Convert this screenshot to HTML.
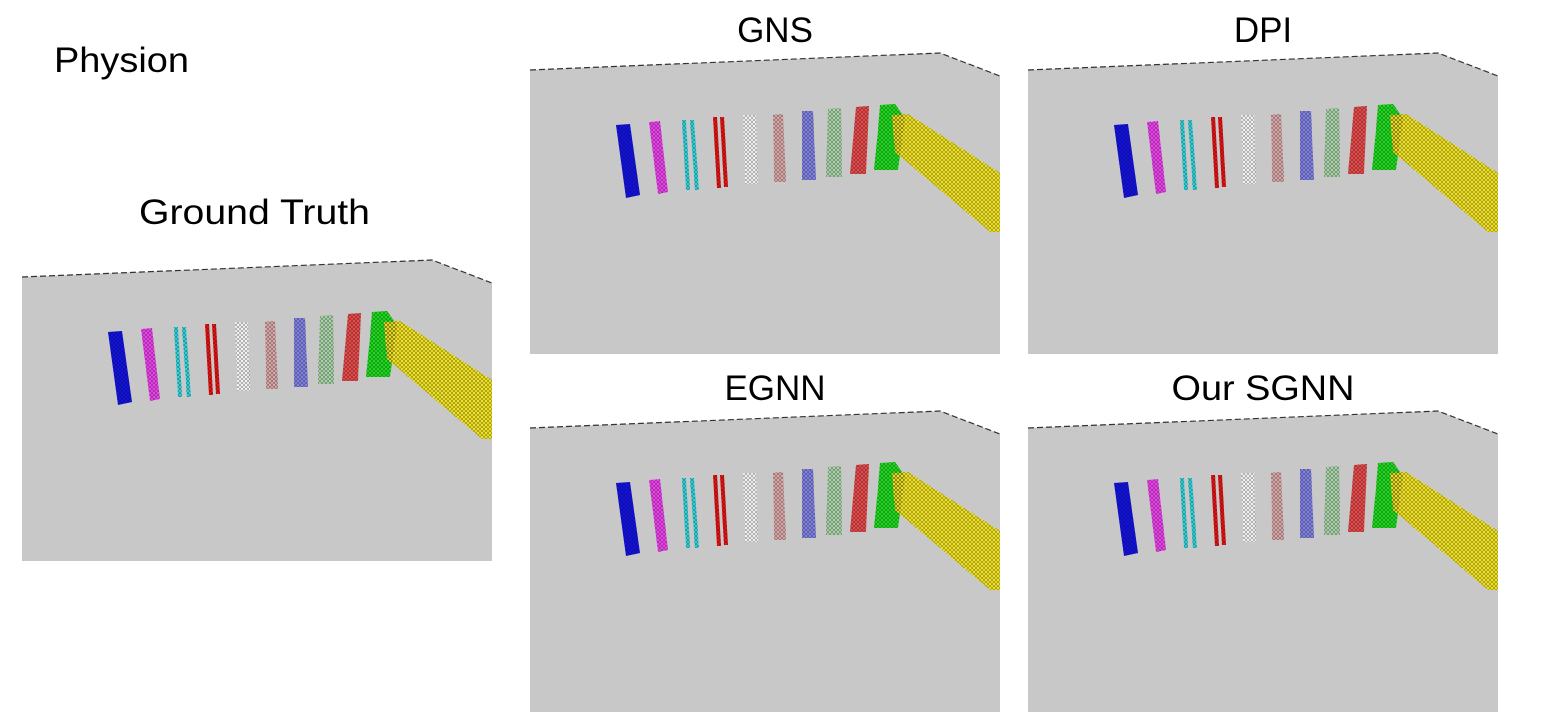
<!DOCTYPE html>
<html><head><meta charset="utf-8"><style>html,body{margin:0;padding:0;background:#fff}svg{display:block}</style></head>
<body>
<svg width="1546" height="720" viewBox="0 0 1546 720" xmlns="http://www.w3.org/2000/svg">
<defs>
<pattern id="dots" width="4" height="4" patternUnits="userSpaceOnUse">
<circle cx="2" cy="2" r="1.4" fill="none" stroke="#000" stroke-width="0.5" opacity="0.6"/>
</pattern>
<g id="shapes">
<polygon points="86,55 100,54 110,125 96,128"/>
<polygon points="119,52 130,51 138,122 128,124"/>
<polygon points="152,50 156,50 160,120 156,120"/>
<polygon points="160,50 164,50 169,120 165,120"/>
<polygon points="183,47 187,47 191,118 187,118"/>
<polygon points="190,47 194,47 198,117 194,117"/>
<polygon points="213,45 226,45 228,114 215,114"/>
<polygon points="243,45 253,44 256,112 244,112"/>
<polygon points="272,41 283,41 286,110 272,110"/>
<polygon points="298,39 311,38 312,107 296,107"/>
<polygon points="326,37 339,36 336,104 320,104"/>
<polygon points="350,35 365,34 375,48 368,100 344,100 348,60"/>
<polygon points="362,45 378,44 470,103 470,162 460,162 365,82"/>
</g>
<g id="scene">
<polygon points="0,0 410,-17 470,6 470,284 0,284" fill="#c8c8c8"/>
<polyline points="0,0 410,-17 470,6" fill="none" stroke="#333" stroke-width="1.2" stroke-dasharray="6,3"/>
<polygon points="86,55 100,54 110,125 96,128" fill="#1414e6"/>
<polygon points="119,52 130,51 138,122 128,124" fill="#ee44ee"/>
<polygon points="152,50 156,50 160,120 156,120" fill="#33d6dd"/>
<polygon points="160,50 164,50 169,120 165,120" fill="#33d6dd"/>
<polygon points="183,47 187,47 191,118 187,118" fill="#e81414"/>
<polygon points="190,47 194,47 198,117 194,117" fill="#e81414"/>
<polygon points="213,45 226,45 228,114 215,114" fill="#f6f6f6"/>
<polygon points="243,45 253,44 256,112 244,112" fill="#dcaaaa"/>
<polygon points="272,41 283,41 286,110 272,110" fill="#8484e6"/>
<polygon points="298,39 311,38 312,107 296,107" fill="#acd6ac"/>
<polygon points="326,37 339,36 336,104 320,104" fill="#ea4c4c"/>
<polygon points="350,35 365,34 375,48 368,100 344,100 348,60" fill="#22dd22"/>
<polygon points="362,45 378,44 470,103 470,162 460,162 365,82" fill="#f2e426"/>
<use href="#shapes" fill="url(#dots)"/>
</g>
</defs>
<g font-family="'Liberation Sans', sans-serif" font-size="35" fill="#000">
<text x="54" y="72" textLength="135" lengthAdjust="spacingAndGlyphs">Physion</text>
<text x="139" y="224" textLength="231" lengthAdjust="spacingAndGlyphs">Ground Truth</text>
<text x="775" y="42" text-anchor="middle">GNS</text>
<text x="1263" y="42" text-anchor="middle">DPI</text>
<text x="775" y="400" text-anchor="middle">EGNN</text>
<text x="1263" y="400" text-anchor="middle" textLength="183" lengthAdjust="spacingAndGlyphs">Our SGNN</text>
</g>
<use href="#scene" x="22" y="277"/>
<use href="#scene" x="530" y="70"/>
<use href="#scene" x="1028" y="70"/>
<use href="#scene" x="530" y="428"/>
<use href="#scene" x="1028" y="428"/>
</svg>
</body></html>
